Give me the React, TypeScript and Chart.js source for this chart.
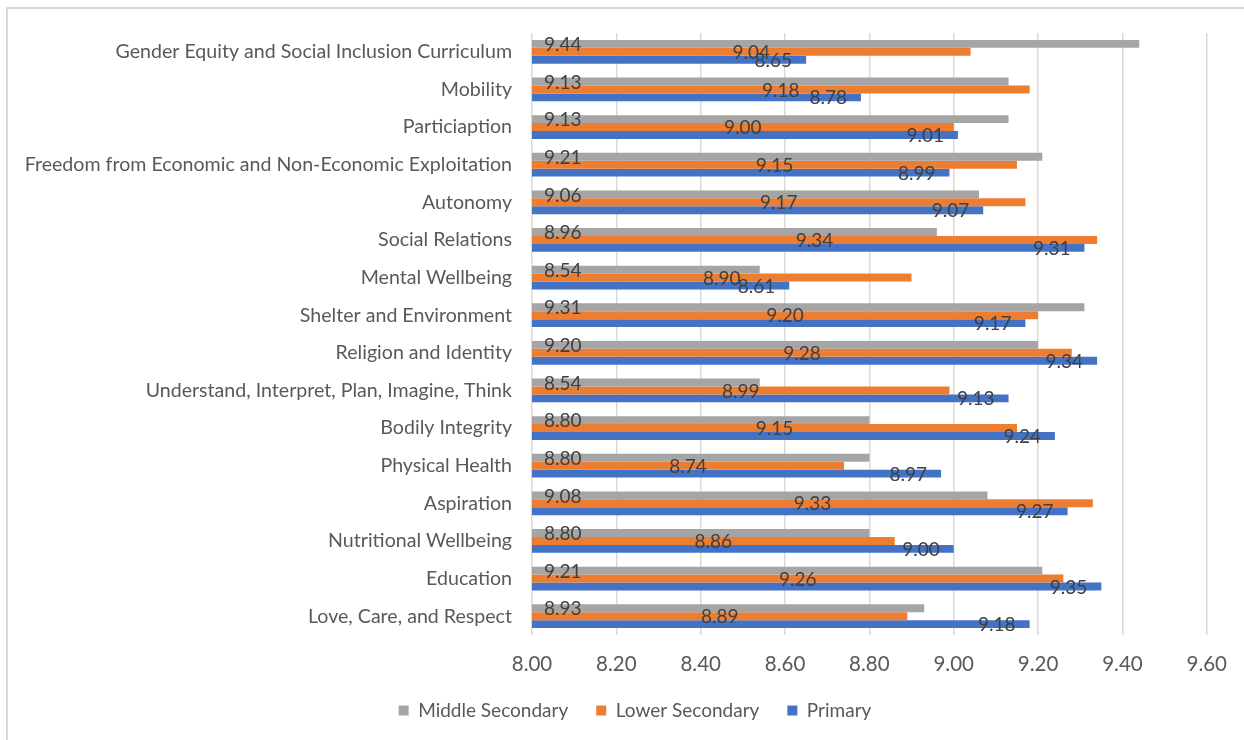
import React, { useEffect, useRef } from "react";
import { Chart, registerables } from "chart.js";

Chart.register(...registerables);

const categories = [
  "Gender Equity and Social Inclusion Curriculum",
  "Mobility",
  "Particiaption",
  "Freedom from Economic and Non-Economic Exploitation",
  "Autonomy",
  "Social Relations",
  "Mental Wellbeing",
  "Shelter and Environment",
  "Religion and Identity",
  "Understand, Interpret, Plan, Imagine, Think",
  "Bodily Integrity",
  "Physical Health",
  "Aspiration",
  "Nutritional Wellbeing",
  "Education",
  "Love, Care, and Respect",
];

const middleSecondary = [9.44, 9.13, 9.13, 9.21, 9.06, 8.96, 8.54, 9.31, 9.2, 8.54, 8.8, 8.8, 9.08, 8.8, 9.21, 8.93];
const lowerSecondary = [9.04, 9.18, 9.0, 9.15, 9.17, 9.34, 8.9, 9.2, 9.28, 8.99, 9.15, 8.74, 9.33, 8.86, 9.26, 8.89];
const primary = [8.65, 8.78, 9.01, 8.99, 9.07, 9.31, 8.61, 9.17, 9.34, 9.13, 9.24, 8.97, 9.27, 9.0, 9.35, 9.18];

const seriesNames = ["Middle Secondary", "Lower Secondary", "Primary"];
const seriesColors = ["#A5A5A5", "#ED7D31", "#4472C4"];

const X_MIN = 8.0;
const X_MAX = 9.6;
const X_STEP = 0.2;

const FONT = "Lato, 'Open Sans', sans-serif";

const labelPlugin = {
  id: "barValueLabels",
  afterLayout(chart: any) {
    const lg = chart.legend;
    if (lg) {
      lg.left = 60;
      lg.right = 1210;
      lg.width = 1150;
    }
  },
  afterDatasetsDraw(chart: any) {
    const ctx = chart.ctx;
    const xScale = chart.scales.x;
    const base = xScale.getPixelForValue(X_MIN);
    ctx.save();
    ctx.font = `19px ${FONT}`;
    ctx.fillStyle = "#404040";
    ctx.textBaseline = "middle";
    chart.data.datasets.forEach((ds: any, di: number) => {
      const meta = chart.getDatasetMeta(di);
      meta.data.forEach((bar: any, i: number) => {
        const v = ds.data[i] as number;
        const end = bar.x;
        const y = bar.y + 1;
        let x: number;
        if (di === 0) {
          x = base + 12;
          ctx.textAlign = "left";
        } else if (di === 1) {
          x = (base + end) / 2;
          ctx.textAlign = "center";
        } else {
          x = end - 14;
          ctx.textAlign = "right";
        }
        ctx.fillText(v.toFixed(2), x, y);
      });
    });
    ctx.restore();
  },
};

export default function App() {
  const ref = useRef<HTMLCanvasElement | null>(null);

  useEffect(() => {
    if (!ref.current) return;
    const datasets = [middleSecondary, lowerSecondary, primary].map((d, i) => ({
      label: seriesNames[i],
      data: d,
      backgroundColor: seriesColors[i],
      borderWidth: 0,
      categoryPercentage: 0.63,
      barPercentage: 1.0,
    }));
    const chart = new Chart(ref.current, {
      type: "bar",
      data: { labels: categories, datasets },
      options: {
        indexAxis: "y",
        responsive: false,
        animation: false,
        layout: { padding: { top: 33, right: 34, bottom: 10, left: 0 } },
        plugins: {
          legend: {
            position: "bottom",
            labels: {
              boxWidth: 10,
              boxHeight: 10,
              padding: 28,
              color: "#595959",
              font: { family: FONT, size: 19 },
            },
          },
          tooltip: { enabled: false },
        },
        scales: {
          x: {
            min: X_MIN,
            max: X_MAX,
            afterFit: (s: any) => {
              s.height = 38;
            },
            ticks: {
              stepSize: X_STEP,
              padding: 17,
              color: "#595959",
              font: { family: FONT, size: 20.5 },
              callback: (v: any) => Number(v).toFixed(2),
            },
            grid: { color: "#D9D9D9", lineWidth: 1.5, drawTicks: false },
            border: { display: false },
          },
          y: {
            afterFit: (s: any) => {
              s.width = 532;
            },
            ticks: {
              padding: 20,
              color: "#595959",
              font: { family: FONT, size: 19.6 },
            },
            grid: { display: false, drawTicks: false },
            border: { display: false },
          },
        },
      },
      plugins: [labelPlugin],
    });
    return () => chart.destroy();
  }, []);

  return (
    <div style={{ position: "absolute", left: 0, top: 0, width: 1244, height: 740, background: "#fff", overflow: "hidden" }}>
      <canvas ref={ref} width={1244} height={740} style={{ position: "absolute", left: 0, top: 0 }} />
      <div style={{ position: "absolute", left: 6, top: 7, width: 1238, height: 2, background: "#D9D9D9" }} />
      <div style={{ position: "absolute", left: 6, top: 7, width: 2, height: 733, background: "#D9D9D9" }} />
    </div>
  );
}
